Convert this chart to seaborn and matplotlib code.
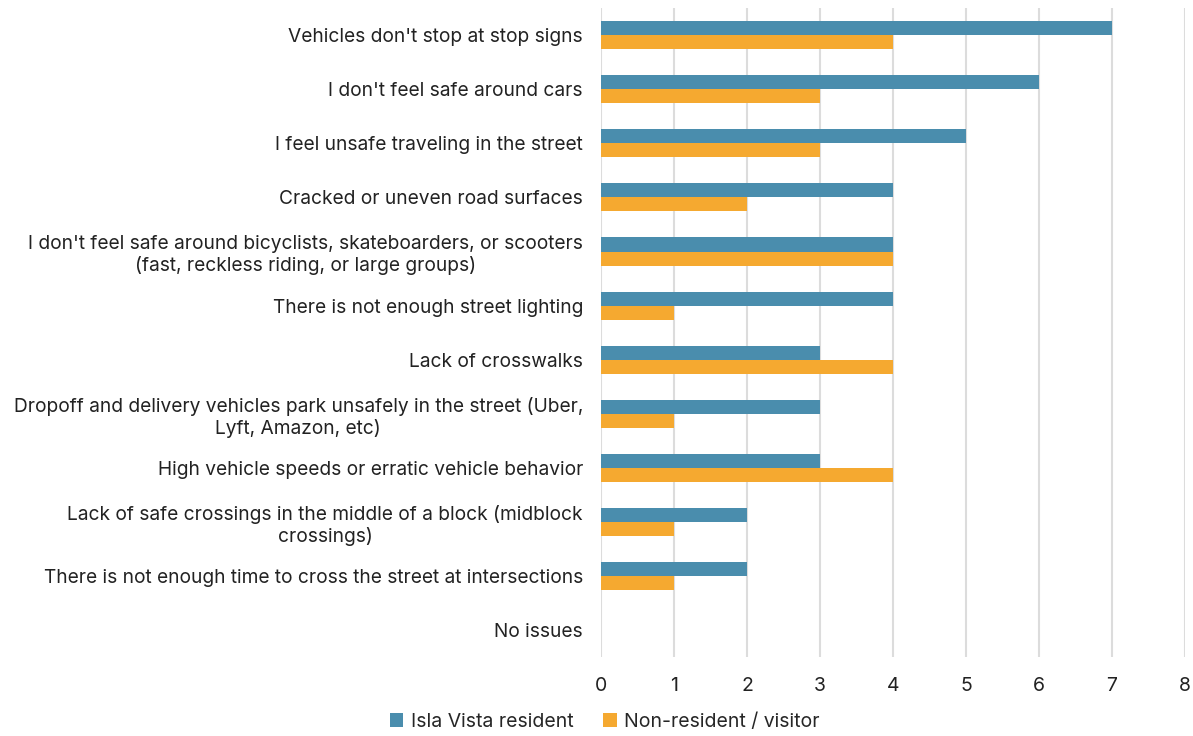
import matplotlib
matplotlib.use("Agg")
import matplotlib.pyplot as plt
import seaborn as sns
import pandas as pd

categories = [
    "Vehicles don't stop at stop signs",
    "I don't feel safe around cars",
    "I feel unsafe traveling in the street",
    "Cracked or uneven road surfaces",
    "I don't feel safe around bicyclists, skateboarders, or scooters\n(fast, reckless riding, or large groups)",
    "There is not enough street lighting",
    "Lack of crosswalks",
    "Dropoff and delivery vehicles park unsafely in the street (Uber,\nLyft, Amazon, etc)",
    "High vehicle speeds or erratic vehicle behavior",
    "Lack of safe crossings in the middle of a block (midblock\ncrossings)",
    "There is not enough time to cross the street at intersections",
    "No issues",
]
resident = [7, 6, 5, 4, 4, 4, 3, 3, 3, 2, 2, 0]
visitor = [4, 3, 3, 2, 4, 1, 4, 1, 4, 1, 1, 0]
series_names = ["Isla Vista resident", "Non-resident / visitor"]
colors = ["#4A8DAD", "#F5A930"]
xticks = list(range(0, 9))

df = pd.DataFrame({
    "category": categories * 2,
    "value": resident + visitor,
    "series": [series_names[0]] * len(categories) + [series_names[1]] * len(categories),
})

sns.set_theme(style="white")
plt.rcParams['font.family'] = ['Inter', 'DejaVu Sans']

fig = plt.figure(figsize=(11.93, 7.36), dpi=100)
ax = fig.add_axes([0.5038, 0.107, 0.4895, 0.882])

sns.barplot(data=df, y="category", x="value", hue="series", order=categories,
            hue_order=series_names, palette=colors, orient="h", width=0.52,
            saturation=1, linewidth=0, ax=ax, legend=True)

ax.set_xlim(0, 8)
ax.set_xticks(xticks)
ax.set_ylim(len(categories) - 0.5, -0.5)
ax.xaxis.grid(True, color="#dcdcdc", linewidth=1.5)
ax.set_axisbelow(True)
for s in ax.spines.values():
    s.set_visible(False)
ax.set_xlabel("")
ax.set_ylabel("")
ax.tick_params(axis="x", labelsize=14, colors="#222222", length=0, pad=14)
ax.tick_params(axis="y", labelsize=13.8, colors="#222222", length=0, pad=13)
for lab in ax.get_yticklabels():
    lab.set_multialignment("center")

handles, labels = ax.get_legend_handles_labels()
ax.legend_.remove()
fig.legend(handles, labels, loc="center", bbox_to_anchor=(0.507, 1 - 722 / 736), ncol=2,
           frameon=False, fontsize=14, handlelength=0.7, handleheight=0.7,
           handletextpad=0.4, columnspacing=1.5)

fig.savefig("out.png", dpi=100)
